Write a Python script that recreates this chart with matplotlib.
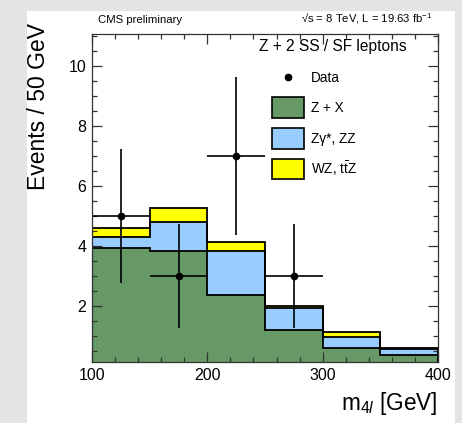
import matplotlib
matplotlib.use("Agg")
import matplotlib.pyplot as plt
from matplotlib.patches import Rectangle
from matplotlib.ticker import MultipleLocator
import numpy as np

plt.rcParams['font.family'] = ['Liberation Sans', 'DejaVu Sans']
plt.rcParams['mathtext.fontset'] = 'custom'
plt.rcParams['mathtext.rm'] = 'Liberation Sans'
plt.rcParams['mathtext.it'] = 'Liberation Sans:italic'

# ---- data ----
bin_edges = [100, 150, 200, 250, 300, 350, 400]
z_plus_x = [3.94, 3.84, 2.38, 1.20, 0.61, 0.37]
zgamma_zz = [0.37, 0.96, 1.46, 0.74, 0.37, 0.19]
wz_ttz = [0.28, 0.46, 0.28, 0.07, 0.14, 0.03]
data_x = [125, 175, 225, 275]
data_y = [5, 3, 7, 3]
data_err = [2.24, 1.73, 2.65, 1.73]
data_xerr = [25, 25, 25, 25]
legend_labels = ["Data", "Z + X", "Zγ*, ZZ", r"WZ, $\mathrm{t\bar{t}}$Z"]

W, H = 462, 423
fig = plt.figure(figsize=(W / 100, H / 100), dpi=100)
fig.patch.set_facecolor('#e4e4e4')

def fx(x):
    return x / W

def fy(y):
    return 1 - y / H

# white card
fig.patches.append(Rectangle((fx(27), 0), fx(455) - fx(27), fy(11), transform=fig.transFigure,
                             facecolor='white', edgecolor='none', zorder=-10))

ax_l, ax_r, ax_t, ax_b = 92, 438, 34, 362
ax = fig.add_axes([fx(ax_l), fy(ax_b), fx(ax_r) - fx(ax_l), fy(ax_t) - fy(ax_b)])
ax.set_zorder(2)
ax.set_facecolor('white')
ax.set_xlim(100, 400)
ax.set_ylim(0.13, 11.07)

green = '#669966'
blue = '#99ccff'
yellow = '#ffff00'

edges = np.array(bin_edges)
s1 = np.array(z_plus_x)
s2 = s1 + np.array(zgamma_zz)
s3 = s2 + np.array(wz_ttz)

for vals, col in [(s3, yellow), (s2, blue), (s1, green)]:
    ax.stairs(vals, edges, baseline=0, fill=True, color=col, zorder=1)
for vals in [s3, s2, s1]:
    ax.stairs(vals, edges, baseline=0, fill=False, color='black', linewidth=1.3, zorder=2)

ax.errorbar(data_x, data_y, yerr=data_err, xerr=data_xerr, fmt='o', color='black',
            markersize=4.5, elinewidth=1.2, capsize=0, zorder=3)

# ticks
ax.xaxis.set_major_locator(MultipleLocator(100))
ax.xaxis.set_minor_locator(MultipleLocator(20))
ax.yaxis.set_major_locator(MultipleLocator(2))
ax.yaxis.set_minor_locator(MultipleLocator(0.5))
ax.tick_params(which='both', direction='in', top=True, right=True, color='#333333', width=0.9)
ax.tick_params(which='major', length=7, labelsize=11.5, pad=4)
ax.tick_params(which='minor', length=3.5)
ax.set_yticks([2, 4, 6, 8, 10])
for sp in ax.spines.values():
    sp.set_linewidth(0.9)
    sp.set_color('#333333')
    sp.set_zorder(4)

# axis labels
fig.text(fx(438), fy(403), r'm$_{4\mathit{l}}$ [GeV]', ha='right', va='center', fontsize=16.3)
fig.text(fx(39), fy(23), 'Events / 50 GeV', rotation=90, ha='center', va='top', fontsize=16.5)

# header texts
fig.text(fx(98), fy(20), 'CMS preliminary', ha='left', va='center', fontsize=8.2)
fig.text(fx(432), fy(19), r'√s = 8 TeV, L = 19.63 fb$^{-1}$', ha='right', va='center', fontsize=8.1)
fig.text(fx(407), fy(47), 'Z + 2 SS / SF leptons', ha='right', va='center', fontsize=11.2,
         zorder=10)

# legend
fig.lines.append(plt.Line2D([fx(288)], [fy(77)], marker='o', color='black', markersize=4.5,
                            transform=fig.transFigure, zorder=10))
fig.text(fx(311), fy(78), legend_labels[0], ha='left', va='center', fontsize=9.8, zorder=10)
boxes = [(97.3, 118.3, green), (127.7, 149.3, blue), (159, 179.3, yellow)]
for (y0, y1, col), lab in zip(boxes, legend_labels[1:]):
    fig.patches.append(Rectangle((fx(271.7), fy(y1)), fx(304.3) - fx(271.7), fy(y0) - fy(y1),
                                 transform=fig.transFigure, facecolor=col, edgecolor='black',
                                 linewidth=1.2, zorder=10))
    fig.text(fx(311), fy((y0 + y1) / 2), lab, ha='left', va='center', fontsize=9.8, zorder=10)

fig.savefig('out.png', dpi=100, facecolor=fig.get_facecolor())
